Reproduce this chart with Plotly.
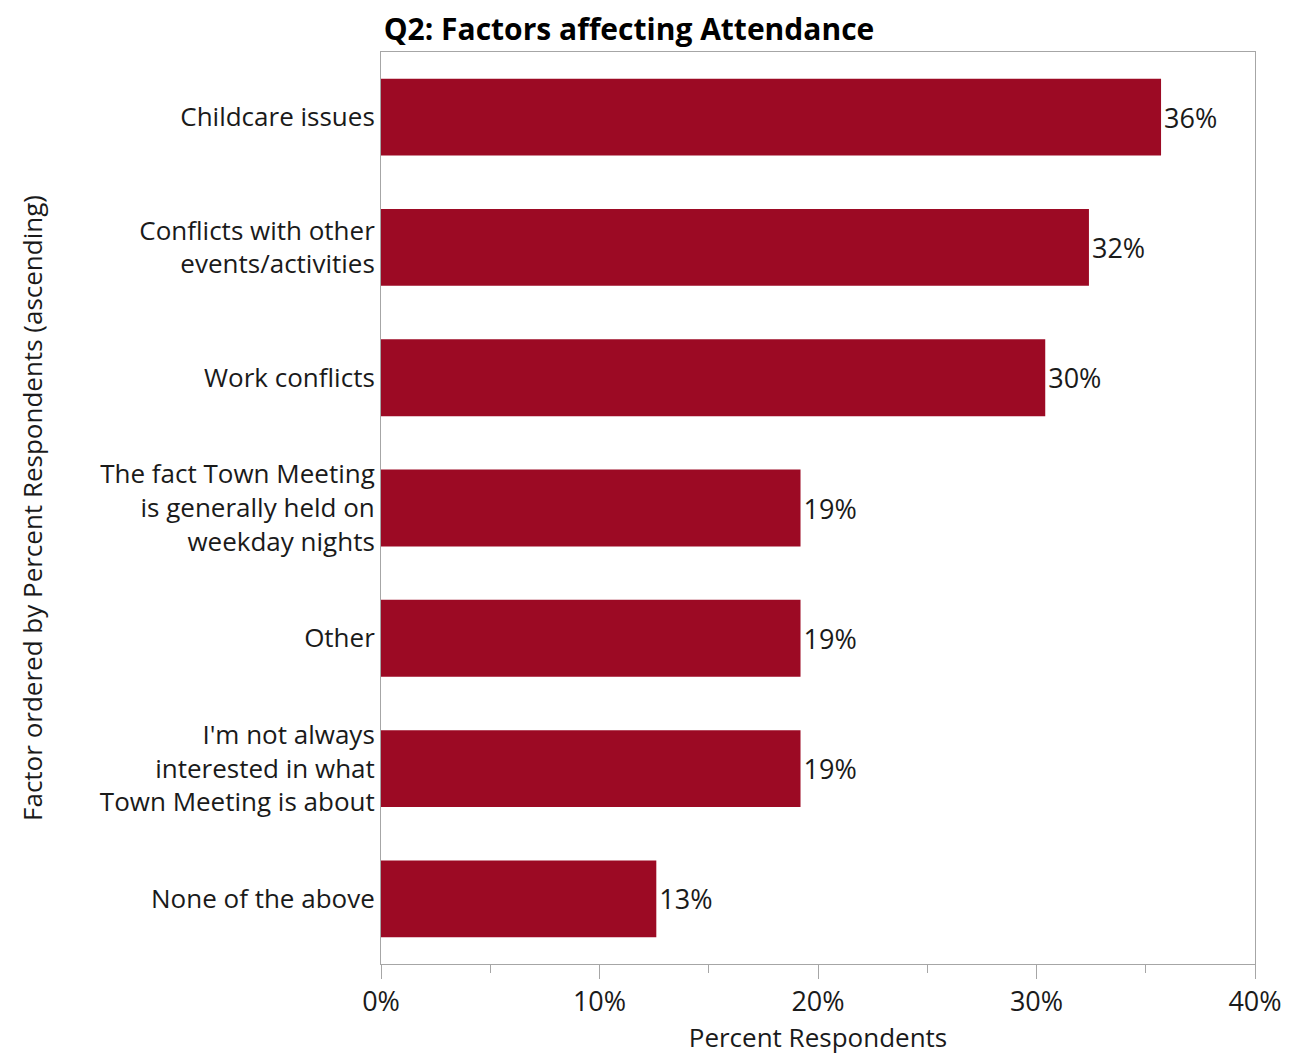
import plotly.graph_objects as go

# Data (top to bottom as displayed)
categories = [
    "Childcare issues",
    "Conflicts with other<br>events/activities",
    "Work conflicts",
    "The fact Town Meeting<br>is generally held on<br>weekday nights",
    "Other",
    "I'm not always<br>interested in what<br>Town Meeting is about",
    "None of the above",
]
percent = [35.7, 32.4, 30.4, 19.2, 19.2, 19.2, 12.6]
x_ticks = [0, 10, 20, 30, 40]
x_ticklabels = ["0%", "10%", "20%", "30%", "40%"]

FONT = "Open Sans"
TXT = "#1a1a1a"
AXC = "#a6a6a6"
W, H = 1294, 1048  # page body has an 8px margin

fig = go.Figure(
    go.Bar(
        x=percent,
        y=categories,
        orientation="h",
        marker=dict(color="#9C0A24", line=dict(width=0)),
        width=0.59,
        texttemplate="%{x:.0f}%",
        textposition="outside",
        cliponaxis=False,
        textfont=dict(family=FONT, size=27, color=TXT),
    )
)

fig.update_layout(
    width=W,
    height=H,
    paper_bgcolor="white",
    plot_bgcolor="white",
    margin=dict(l=373, r=47, t=44, b=90),
    showlegend=False,
    font=dict(family=FONT, size=26, color=TXT),
    title=dict(
        text="<b>Q2: Factors affecting Attendance</b>",
        x=621 / W,
        xanchor="center",
        xref="container",
        y=1 - 11 / H,
        yanchor="top",
        yref="container",
        pad=dict(t=0, b=0),
        font=dict(family=FONT, size=30, color="#000000"),
    ),
)

fig.update_xaxes(
    range=[0, 40],
    tickvals=x_ticks,
    ticktext=x_ticklabels,
    ticks="outside",
    ticklen=14,
    tickcolor=AXC,
    tickwidth=1,
    minor=dict(dtick=5, tick0=0, ticks="outside", ticklen=8, tickcolor=AXC, tickwidth=1, showgrid=False),
    showgrid=False,
    zeroline=False,
    showline=True,
    linecolor=AXC,
    linewidth=1,
    mirror=True,
    tickfont=dict(family=FONT, size=27, color=TXT),
    title=dict(text="Percent Respondents", font=dict(family=FONT, size=26, color=TXT), standoff=6),
)

fig.update_yaxes(
    autorange="reversed",
    showgrid=False,
    zeroline=False,
    showline=True,
    linecolor=AXC,
    linewidth=1,
    mirror=True,
    ticks="",
    tickfont=dict(family=FONT, size=26, color=TXT),
    title=dict(
        text="Factor ordered by Percent Respondents (ascending)",
        font=dict(family=FONT, size=26, color=TXT),
        standoff=49,
    ),
)

fig.write_html("out.html")
